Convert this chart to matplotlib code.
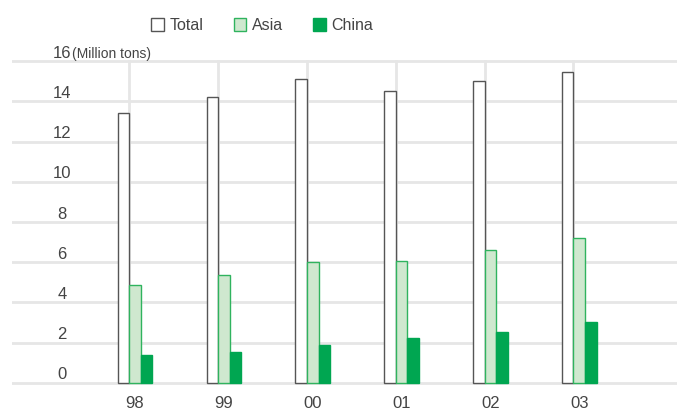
import matplotlib
matplotlib.use("Agg")
import matplotlib.pyplot as plt
from matplotlib.patches import Patch
import matplotlib.transforms as mtransforms
import numpy as np

years = ["98", "99", "00", "01", "02", "03"]
total = [13.4, 14.2, 15.1, 14.5, 15.0, 15.45]
asia = [4.85, 5.35, 6.0, 6.05, 6.6, 7.2]
china = [1.4, 1.55, 1.9, 2.25, 2.55, 3.05]
y_ticks = [0, 2, 4, 6, 8, 10, 12, 14, 16]
unit_label = "(Million tons)"

plt.rcParams["font.family"] = ["Liberation Sans", "DejaVu Sans"]
text_color = "#444444"
grid_color = "#e6e6e6"

fig = plt.figure(figsize=(6.77, 4.11), dpi=100)
ax = fig.add_axes([12 / 677, 26 / 411, 665 / 677, 326 / 411])

x = np.arange(len(years))
w = 0.13

# horizontal grid
for t in y_ticks:
    ax.axhline(t, color=grid_color, lw=2, zorder=0)
# vertical grid at each group's left bar edge
for xi in x:
    ax.plot([xi - w / 2, xi - w / 2], [0, 16], color=grid_color, lw=2, zorder=0)

ax.bar(x - w, total, w, facecolor="white", edgecolor="#555555", lw=1, zorder=2)
ax.bar(x, asia, w, facecolor="#cfe8cf", edgecolor="#2fb35e", lw=1, zorder=2)
ax.bar(x + w, china, w, facecolor="#00a651", edgecolor="#00a651", lw=1, zorder=2)

ax.set_xlim(-1.385, 6.1)
ax.set_ylim(-0.1, 16.1)
for s in ax.spines.values():
    s.set_visible(False)
ax.set_yticks([])
ax.set_xticks(x)
ax.set_xticklabels(years, fontsize=12, color=text_color)
ax.tick_params(axis="x", length=0, pad=8)

# y labels sitting just above their gridlines
trans = mtransforms.blended_transform_factory(ax.transAxes, ax.transData)
off = mtransforms.ScaledTranslation(0, 0.035, fig.dpi_scale_trans)
for t in y_ticks:
    ax.text(0.0755, t, str(t), transform=trans + off, ha="center", va="baseline",
            fontsize=12, color=text_color)
ax.text(0.0905, 16, unit_label, transform=trans + off, ha="left", va="baseline",
        fontsize=10, color=text_color)

handles = [
    Patch(facecolor="white", edgecolor="#555555", lw=1, label="Total"),
    Patch(facecolor="#cfe8cf", edgecolor="#2fb35e", lw=1, label="Asia"),
    Patch(facecolor="#00a651", edgecolor="#00a651", lw=1, label="China"),
]
fig.legend(handles=handles, loc="upper left", bbox_to_anchor=(137 / 677, 1 - 4 / 411),
           ncol=3, frameon=False, fontsize=11.5, handlelength=0.78, handleheight=0.85,
           handletextpad=0.35, columnspacing=1.9, labelcolor=text_color)

fig.savefig("out.png", dpi=100)
